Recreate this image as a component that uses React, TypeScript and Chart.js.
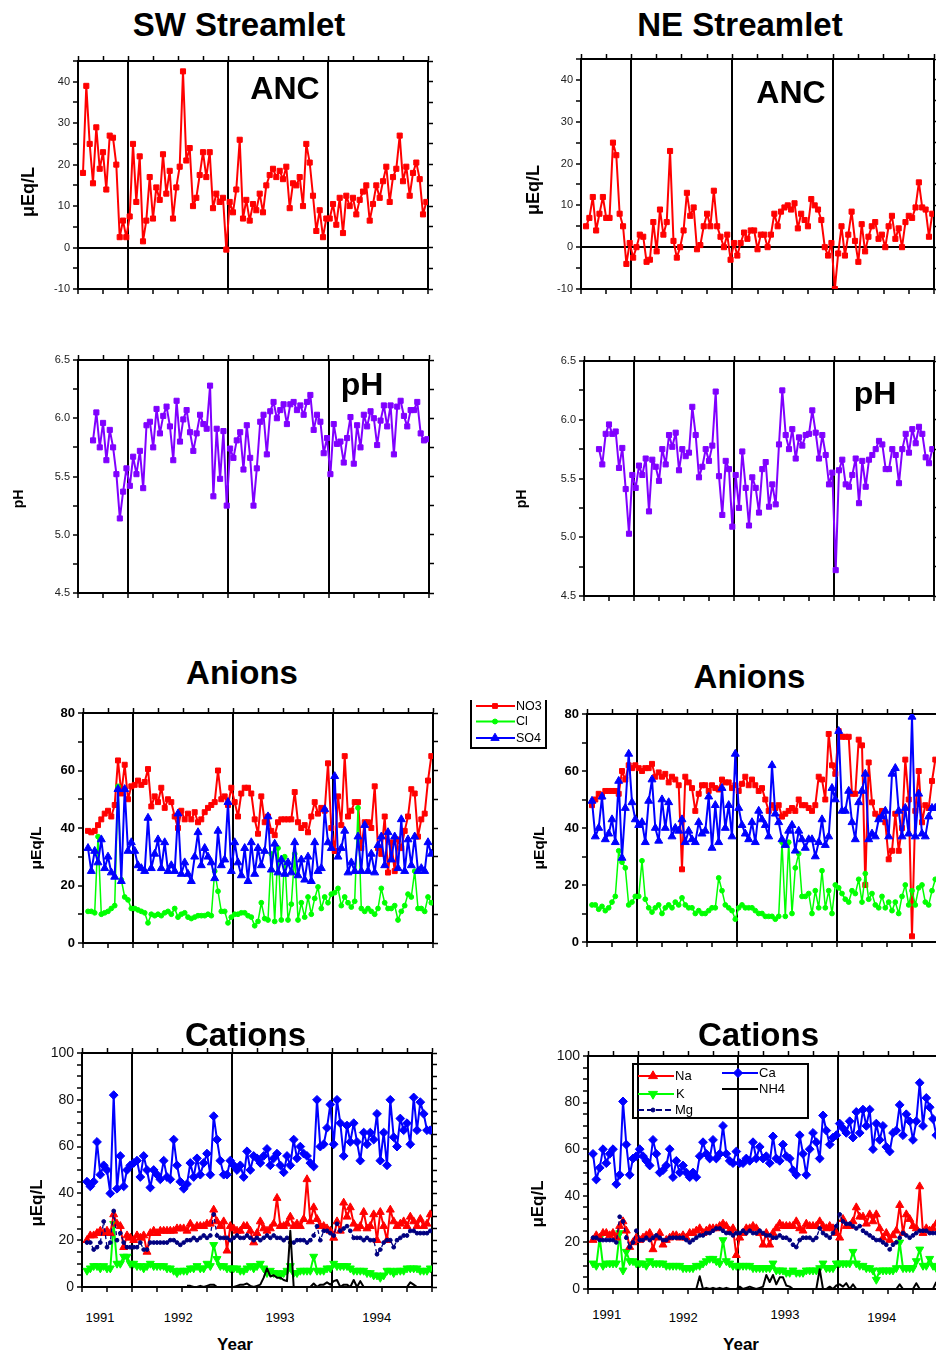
import React, { useEffect, useRef } from 'react';
import { Chart, registerables } from 'chart.js';

Chart.register(...registerables);

const FONT = '"Liberation Sans", Arial, Helvetica, sans-serif';
Chart.defaults.font.family = FONT;

// ---------------- data ----------------
const sampleDates = [
  1991.55, 1991.583, 1991.617, 1991.65, 1991.683, 1991.717, 1991.75, 1991.783, 1991.817, 1991.85, 1991.883, 1991.917, 1991.95, 1991.983,
  1992.017, 1992.05, 1992.083, 1992.117, 1992.15, 1992.183, 1992.217, 1992.25, 1992.283, 1992.317, 1992.35, 1992.383, 1992.417, 1992.45, 1992.483,
  1992.517, 1992.55, 1992.583, 1992.617, 1992.65, 1992.683, 1992.717, 1992.75, 1992.783, 1992.817, 1992.85, 1992.883, 1992.917, 1992.95, 1992.983,
  1993.017, 1993.05, 1993.083, 1993.117, 1993.15, 1993.183, 1993.217, 1993.25, 1993.283, 1993.317, 1993.35, 1993.383, 1993.417, 1993.45, 1993.483,
  1993.517, 1993.55, 1993.583, 1993.617, 1993.65, 1993.683, 1993.717, 1993.75, 1993.783, 1993.817, 1993.85, 1993.883, 1993.917, 1993.95, 1993.983,
  1994.017, 1994.05, 1994.083, 1994.117, 1994.15, 1994.183, 1994.217, 1994.25, 1994.283, 1994.317, 1994.35, 1994.383, 1994.417, 1994.45, 1994.483,
  1994.517, 1994.55, 1994.583, 1994.617, 1994.65, 1994.683, 1994.717, 1994.75, 1994.783, 1994.817, 1994.85, 1994.883, 1994.917, 1994.95, 1994.983,
];

const xQuarterTicks = [1991.5, 1991.75, 1992, 1992.25, 1992.5, 1992.75, 1993, 1993.25, 1993.5, 1993.75, 1994, 1994.25, 1994.5, 1994.75, 1995];
const yearBoundaries = [1992, 1993, 1994];
const yearTickLabels = ['1991', '1992', '1993', '1994'];

const ancTicks = [-10, -5, 0, 5, 10, 15, 20, 25, 30, 35, 40, 45];
const ancTickLabels = [-10, 0, 10, 20, 30, 40];
const phTicks = [4.5, 4.75, 5, 5.25, 5.5, 5.75, 6, 6.25, 6.5];
const phTickLabels = [4.5, 5, 5.5, 6, 6.5];
const anionTicks = [0, 10, 20, 30, 40, 50, 60, 70, 80];
const anionTickLabels = [0, 20, 40, 60, 80];
const cationTicks = [0, 5, 10, 15, 20, 25, 30, 35, 40, 45, 50, 55, 60, 65, 70, 75, 80, 85, 90, 95, 100];
const cationTickLabels = [0, 20, 40, 60, 80, 100];

const N = null;

const swANC = [
  18, 39, 25, 15.5, 29, 19, 23, 14, 27, 26.5, 20, 2.5, 6.5, 2.5,
  7.5, 25, 11, 22, 1.5, 6.5, 17, 7, 14.5, 11.5, 22.5, 13, 18.5, 7, 14.5, 19.5, 42.5, 21, 24, 10, 12, 17.5, 23, 17, 23, 9.5, 13, 11, 12, -0.5,
  11, 8.5, 14, 26, 7, 11.5, 6.5, 10.5, 9, 13, 8.5, 15, 17.5, 19, 17, 18.5, 16.5, 19.5, 9.5, 15.5, 15, 17, 10, 25, 20.5, 12.5, 4, 9, 2.5, 7,
  7, 10.5, 5.5, 12, 3.5, 12.5, 10, 12, 8, 11.5, 13.5, 15, 6.5, 10.5, 15, 12, 16, 19.5, 11, 17, 19, 27, 16, 19.5, 12.5, 18, 20.5, 16.5, 8, 11,
];
const neANC = [
  5, 7, 12, 4, 8, 12, 7, 7, 25, 22, 8, 5, -4, 1,
  -2.5, 0, 3, 2.5, -3.5, -3, 6, -1, 9, 3, 6, 23, 1.5, -2.5, 0, 4, 13, 7.5, 9.5, -0.5, 0.5, 5, 8, 5, 13.5, 5, 2.5, 0, 3, -3,
  1, -2, 1, 3.5, 2, 4, 4, -0.5, 3, 3, 0, 3, 8, 5, 8.5, 9.5, 10, 9, 10.5, 4.5, 8, 6.5, 5, 11.5, 10, 9, 6.5, 0, -2, 1,
  -10, -1.5, 5, -2, 3, 8.5, 1.5, -3.5, 5.5, -1, 2.5, 5, 6, 2, 3, 0, 5, 7.5, 2, 4.5, 0, 6, 7.5, 7, 9.5, 15.5, 9.5, 9, 2.5, 8,
];

const swPH = [
  N, N, N, 5.81, 6.05, 5.75, 5.96, 5.64, 5.9, 5.75, 5.52, 5.14, 5.37, 5.57,
  5.42, 5.67, 5.52, 5.72, 5.4, 5.94, 5.97, 5.75, 6.08, 5.87, 6.02, 6.1, 5.93, 5.64, 6.15, 5.8, 5.99, 6.07, 5.88, 5.72, 5.87, 6.03, 5.95, 5.91, 6.28, 5.33, 5.91, 5.48, 5.89, 5.25,
  5.74, 5.66, 5.81, 5.88, 5.56, 5.94, 5.66, 5.25, 5.57, 5.97, 6.03, 5.69, 6.06, 6.14, 6.0, 6.07, 6.12, 5.95, 6.12, 6.14, 6.07, 6.11, 6.03, 6.14, 6.2, 5.9, 6.03, 5.97, 5.7, 5.83,
  5.52, 5.95, 5.78, 5.8, 5.62, 5.83, 6.01, 5.61, 5.94, 5.75, 6.03, 5.93, 6.06, 6.0, 5.77, 5.98, 6.11, 5.93, 6.11, 5.69, 6.1, 6.15, 6.02, 5.93, 6.07, 6.07, 6.14, 5.87, 5.81, 5.82,
];
const nePH = [
  N, N, N, 5.75, 5.62, 5.88, 5.96, 5.88, 5.9, 5.59, 5.76, 5.41, 5.03, 5.53,
  5.42, 5.61, 5.53, 5.67, 5.22, 5.66, 5.6, 5.48, 5.75, 5.62, 5.87, 5.77, 5.89, 5.57, 5.75, 5.69, 5.72, 6.11, 5.87, 5.51, 5.6, 5.75, 5.65, 5.78, 6.24, 5.52, 5.19, 5.65, 5.58, 5.09,
  5.53, 5.25, 5.73, 5.42, 5.1, 5.51, 5.42, 5.21, 5.58, 5.64, 5.26, 5.45, 5.28, 5.79, 6.25, 5.87, 5.75, 5.92, 5.67, 5.85, 5.78, 5.87, 5.88, 6.08, 5.89, 5.67, 5.87, 5.7, 5.45, 5.55,
  4.72, 5.57, 5.66, 5.45, 5.43, 5.53, 5.67, 5.29, 5.65, 5.43, 5.66, 5.7, 5.75, 5.82, 5.79, 5.58, 5.58, 5.75, 5.7, 5.46, 5.75, 5.88, 5.72, 5.92, 5.8, 5.94, 5.88, 5.68, 5.63, 5.75,
];

const swNO3 = [
  39, 38.5, 39, 41, 43, 45, 46, 44, 48, 63.5, 52, 62, 50, 54.5,
  55, 56.5, 55, 56, 60.5, 47.5, 51, 49, 54, 47, 50, 49, 44, 40, 46, 43, 45, 43, 45.5, 42, 43, 45.5, 47, 48, 49, 60, 50, 51, 48, 54,
  49, 44, 52, 54, 54, 52, 43, 38, 51, 42, 44, 39, 37.5, 42, 43, 43, 43, 43, 52.5, 42, 40, 41, 38.5, 44, 49, 45, 47, 46, 62.5, 40,
  32, 51, 41, 65, 44, 46, 49, 49, 33, 42, 42, 40, 54.5, 33, 31, 44, 24.5, 35, 25, 36, 33, 39, 44, 53.5, 52, 37, 43, 45, 56.5, 65,
];
const swCl = [
  11, 11, 10.5, 37, 10, 10.5, 11, 12, 13, 54.5, 22, 16, 15, 12,
  12, 11.5, 11, 10.5, 7, 10, 9.5, 10, 9.5, 10.5, 11, 10, 12, 9, 10, 10.5, 9, 8.5, 9, 9.5, 9.5, 9.5, 10, 9.5, 25, 18, 11, 11, 7, 9,
  10, 10, 10.5, 10.5, 9.5, 9, 6, 7.5, 14, 8.5, 8, 31, 7.5, 33, 8, 30, 8, 13.5, 31, 8, 14, 9, 16, 10, 15.5, 19.5, 12, 16, 14, 17,
  17.5, 19, 13, 16, 14, 12.5, 14.5, 47, 12, 11, 12, 11, 10, 12, 19, 14, 12, 12, 13, 8, 11, 13, 17, 16, 25, 12, 12, 11, 16, 14,
];
const swSO4 = [
  33, 25, 32, 28, 36, 26, 30, 24.5, 23, 53.5, 21.5, 53.5, 32, 35,
  32, 27, 26, 25, 43.5, 26, 31, 36, 26, 35, 25, 27, 25, 45, 24, 28, 24, 21.5, 30, 38.5, 27, 33, 30, 28, 22.5, 39, 27, 29, 49, 25,
  35, 28, 23.5, 33, 21.5, 35, 24, 33, 27, 32, 44, 25.5, 34.5, 24.5, 29, 24, 28, 24.5, 35, 23.5, 29, 22, 30, 21.5, 35, 25, 26, 46.5, 35, 33,
  58, 30, 33, 39, 24.5, 28, 25, 37, 25, 41, 25, 31, 24.5, 34, 37, 27, 38.5, 29, 37, 26, 43, 25, 36, 27, 37, 25, 26, 25, 35, 31,
];
const neNO3 = [
  48, 50, 52, 51, 53, 53, 53, 53, 52, 60, 57, 62, 61, 62,
  61, 60, 61, 61, 62.5, 58, 59.5, 58, 59, 56, 58, 57, 55, 25.5, 58, 56, 54, 46, 52, 55, 55, 53, 55, 54, 53.5, 57, 56, 56, 54, 55,
  53, 55.5, 58, 55, 57, 55, 53, 54, 50, 46, 48, 47, 48, 44, 45, 46, 47, 46, 50, 48, 48, 47, 46, 48, 58, 57, 50, 73, 62, 59,
  74, 72, 72, 72, 52, 52, 71, 69, 20, 63, 49, 45, 44, 46, 42, 29, 32, 45, 32, 40, 64, 50, 2, 46, 60, 42, 48, 47, 56.5, 64,
];
const neCl = [
  13, 13, 11.5, 12.5, 11, 12, 14, 16, 32, 28, 26, 13, 14, 16,
  16, 28.5, 15, 12, 10.5, 12, 13, 10, 12, 13, 12, 14, 13, 15.5, 13, 12, 12, 10, 11, 10, 10, 11, 12, 12, 22.5, 18, 13, 12, 11, 8,
  12, 13, 12, 12, 12, 11, 10, 10, 9, 9, 9, 8, 9, 35, 9, 35, 10, 26, 31, 16, 16, 17, 10, 18, 12, 25, 12, 18, 10, 20,
  19, 17, 15, 14, 18, 17, 22, 14, 24, 15, 17, 13, 12, 16, 12, 14, 11, 14, 10, 16, 20, 13, 18, 13, 19, 20, 14, 13, 18, 22,
];
const neSO4 = [
  49.5, 37, 40, 51, 36, 38, 43, 35, 56.5, 29.5, 47, 66, 49, 43,
  41, 42, 35, 49.5, 57, 40, 35.5, 50, 40, 49, 37, 40, 39, 43, 35, 39, 36, 35, 42, 38, 39, 51, 33, 48, 35, 54, 40, 48, 37, 66,
  47, 41, 38, 36, 42, 35, 46, 43, 41, 37, 62, 45, 42, 36, 34, 39, 41, 32, 39, 36, 33, 36, 36, 30, 35, 43, 34, 37, 54, 50,
  74, 46, 46, 53, 42, 36, 49, 53, 59, 36, 38, 37, 43, 44, 46, 37, 59, 61, 46, 37, 47, 38, 79, 37, 52, 38, 37, 44, 47, 47,
];

const swNa = [
  20, 22, 22, 23, 24, 23, 24, 23, 31, 27, 26, 17, 22, 21,
  20, 22, 21, 22, 15, 23, 24, 23, 24, 24, 24, 24, 24, 25, 25, 25, 24, 27, 25, 26, 26, 26, 27, 27, 33, 28, 26, 28, 15.5, 26,
  25, 24, 24, 26, 26, 24, 19, 23, 28, 25, 24, 25, 27, 38, 26, 26, 27, 30, 26, 27, 26, 29, 46, 28, 34, 29, 26, 26, 25, 24,
  21, 28, 24, 36, 30, 34, 27, 25, 26, 32, 25, 26, 31, 20, 32, 26, 20, 33, 28, 26, 27, 28, 26, 30, 28, 26, 29, 26, 27, 31,
];
const swK = [
  7, 8, 9, 9, 8, 9, 8, 8, 27, 10, 10, 13, 13, 10,
  10, 9, 9, 8, 9, 10, 9, 9, 9, 9, 8, 8, 7, 6, 7, 7, 7, 8, 8, 9, 8, 8, 10, 9, 18, 12, 9, 9, 8, 8,
  8, 8, 7, 7, 8, 9, 8, 9, 10, 8, 6, 7, 6, 6, 5, 6, 7, 9, 6, 6, 7, 7, 7, 7, 13, 7, 7, 7, 8, 8,
  10, 9, 9, 9, 9, 8, 7, 7, 7, 7, 6, 6, 5, 5, 4, 5, 7, 7, 6, 7, 7, 7, 8, 8, 8, 8, 7, 7, 7, 8,
];
const swMg = [
  19, 19, 16, 17, 19, 28, 17, 19, 32.5, 20, 23, 19, 17, 17,
  17, 17, 19, 16, 16, 19, 19, 19, 19, 19, 19, 20, 20, 19, 18, 19, 20, 20, 21, 20, 21, 22, 21, 22, 31, 22, 21, 21, 21, 20,
  21, 22, 21, 21, 22, 21, 20, 21, 20, 21, 22, 21, 22, 21, 21, 20, 21, 19, 19, 20, 20, 20, 19, 20, 22, 26, 20, 24, 24, 23,
  22, 27, 24, 25, 26, 24, 21, 21, 21, 20, 21, 20, 20, 14, 16, 19, 20, 20, 17, 20, 21, 22, 22, 24, 24, 23, 23, 23, 23, 24,
];
const swCa = [
  45, 43, 45, 62, 48, 52, 50, 40, 82, 42, 56, 43, 50, 52,
  53, 54, 47, 56, 50, 42.5, 50, 48, 46, 54, 47, 46, 63, 52, 45, 42, 44, 53, 47, 55, 48, 53, 57, 48, 73, 63, 54, 48, 48, 54,
  52, 50, 52, 47, 58, 50, 56, 55, 53, 56, 59, 52, 55, 57, 52, 49, 56, 52, 63, 55, 60, 57, 56, 53, 51.5, 80, 60, 61, 68, 78,
  61, 80, 70, 56, 69, 62, 70, 62, 54, 66, 61, 66, 63, 74, 54, 66, 52, 80, 64, 60, 72, 67, 70, 61, 81, 67, 79, 74, 67, 67,
];
const swNH4 = [
  N, N, N, N, N, N, N, N, N, N, N, N, N, N,
  N, N, N, N, N, N, N, N, N, N, N, N, N, N, N, N, 0.5, 0.5, 0, 0, 0.5, 0, 0.5, 1, 1, 0, 0, 0, 0, 0,
  0, 0.5, 1, 1, 1.5, 0.5, 0, 0.5, 1, 4, 8, 4.5, 5, 4, 4, 3, 2.5, 24, 0, 0, 0, 0, 0, 0, 1.5, 0, 1, 1, 2, 1,
  2.5, 3, 0, 1, 1, 0, 3, 0, 2.5, 0, 0, 0, 0, 0, 0, 0, 0, 0, 0, 0, 0, 0, 0, 2, 1, 0, 0, 0, 0, 0,
];

const neNa = [
  21, 23, 22, 24, 24, 23, 24, 22, 27, 29, 25, 18, 20, 22,
  21, 22, 23, 24, 17, 22, 24, 19, 21, 22, 23, 23, 22, 23, 22, 24, 24, 25, 26, 24, 25, 26, 26, 26, 27, 28, 27, 25, 26, 14.5,
  22, 24, 26, 26, 27, 26, 24, 19, 24, 19, 24, 26, 28, 27, 27, 27, 27, 29, 26, 25, 28, 27, 27, 27, 29, 27, 26, 27, 26, 24,
  22, 30, 27, 27, 29, 35, 31, 31, 28, 32, 29, 32, 26, 22, 24, 21, 23, 25, 36, 24, 32, 30, 27, 26, 44, 24, 26, 25, 26, 28,
];
const neK = [
  11, 10, 22, 10, 11, 11, 11, 11, 24, 8, 16, 12, 12, 11,
  11, 11, 10, 12, 11, 11, 11, 11, 10, 10, 10, 10, 10, 9, 9, 9, 9, 10, 10, 11, 12, 13, 13, 12, 11, 21, 12, 11, 10, 10,
  10, 10, 10, 10, 9, 9, 9, 9, 9, 9, 11, 8, 8, 8, 7, 7, 8, 7, 7, 7, 8, 8, 8, 8, 9, 11, 9, 9, 9, 11,
  11, 11, 11, 11, 16, 11, 10, 10, 9, 9, 8, 4, 8, 8, 8, 8, 8, 9, 20, 9, 9, 9, 9, 12, 17, 10, 10, 13, 10, 9,
];
const neMg = [
  22, 22, 21, 21, 21, 21, 21, 20, 31, 29, 22, 18, 20, 25,
  21, 21, 22, 21, 22, 23, 22, 21, 21, 22, 22, 22, 22, 22, 21, 20, 21, 22, 23, 23, 24, 24, 25, 26, 26, 25, 24, 24, 23, 24,
  24, 25, 24, 25, 24, 24, 25, 24, 23, 23, 22, 22, 23, 22, 22, 21, 19, 18, 21, 22, 22, 22, 21, 22, 26, 24, 23, 22, 24, 27,
  32, 29, 28, 28, 27, 26, 27, 25, 24, 23, 22, 21, 21, 20, 19, 17, 19, 20, 22, 24, 23, 22, 23, 24, 25, 25, 25, 24, 24, 24,
];
const neCa = [
  58, 47, 52, 60, 54, 58, 60, 45, 49, 80.5, 62, 49, 56, 57,
  60, 57, 55, 53, 64, 58, 50, 51, 53, 60, 48, 55, 50, 53, 50, 48, 50, 48, 57, 63, 58, 56, 64, 56, 58, 70, 58, 55, 54, 59,
  54, 54, 56, 55, 63, 56, 61, 56, 57, 54, 65.5, 56, 55, 62, 57, 56, 51, 49, 66, 58, 49, 60, 67, 63, 56, 74.5, 68, 62, 65, 66,
  71, 69, 67, 72, 65, 76, 67, 77, 70, 77, 60, 71, 64, 70, 61, 59, 67, 68, 79, 66, 75, 72, 64, 72, 88.5, 70, 82, 78, 73, 66,
];
const neNH4 = [
  N, N, N, N, N, N, N, N, N, N, N, N, N, N,
  N, N, N, N, N, N, N, N, N, N, N, N, N, N, N, N, N, 0, 5.5, 0, 0.5, 0, 0.5, 0, 0.5, 0, 0.5, 0, 0, 0,
  1, 0, 0.5, 1, 0.5, 0, 0.5, 1, 6, 3, 6, 2, 5, 5, 1.5, 1, 0, 0, 0, 0, 0, 0, 0, 0, 8.5, 0, 0, 1, 0, 1.5,
  2, 1, 2.5, 0, 2, 0, 0, 0, 0, 0, 0, 0, 0, 0, 0, 0, 0, 0, 2, 0, 0, 0, 0, 2.5, 0, 0, 0, 0, 0, 3,
];

// ---------------- styles ----------------
const RED = '#ff0000';
const GREEN = '#00ff00';
const BLUE = '#0000ff';
const NAVY = '#000080';
const PURPLE = '#8000ff';
const BLACK = '#000000';

type Marker = 'rect' | 'circle' | 'triangle' | 'rectRot' | null;

interface SeriesSpec {
  label: string;
  values: (number | null)[];
  color: string;
  marker: Marker;
  radius: number;
  rotation?: number;
  width: number;
  dash?: number[];
  order: number;
}

interface LegendItem {
  label: string;
  color: string;
  marker: Marker;
  radius: number;
  rotation?: number;
  width: number;
  dash?: number[];
  x1: number;
  x2: number;
  y: number;
  mx: number;
  tx: number;
}

interface LegendSpec {
  box: [number, number, number, number];
  font: number;
  items: LegendItem[];
}

interface PanelSpec {
  id: string;
  area: [number, number, number, number];
  yMin: number;
  yMax: number;
  yTicks: number[];
  yLabels: number[];
  yDecimals: number;
  yFont: { size: number; weight: string; color: string };
  zeroLine?: boolean;
  series: SeriesSpec[];
  padLeft?: number;
  legend?: LegendSpec;
}

const ser = (
  label: string, values: (number | null)[], color: string, marker: Marker, radius: number,
  width: number, order: number, extra: Partial<SeriesSpec> = {},
): SeriesSpec => ({ label, values, color, marker, radius, width, order, ...extra });

const ancFont = { size: 11, weight: 'normal', color: '#222' };
const anionFont = { size: 13, weight: 'bold', color: '#000' };
const cationFont = { size: 14, weight: 'normal', color: '#111' };

const anionSeries = (no3: number[], cl: number[], so4: number[]) => [
  ser('NO3', no3, RED, 'rect', 3.5, 2, 2),
  ser('Cl', cl, GREEN, 'circle', 2.4, 1.5, 1),
  ser('SO4', so4, BLUE, 'triangle', 4.6, 2, 0),
];
const cationSeries = (na: number[], k: number[], mg: number[], ca: number[], nh4: (number | null)[]) => [
  ser('Na', na, RED, 'triangle', 4.6, 2, 3),
  ser('K', k, GREEN, 'triangle', 4.6, 2, 4, { rotation: 180 }),
  ser('Mg', mg, NAVY, 'circle', 1.9, 1.3, 1, { dash: [4, 3] }),
  ser('Ca', ca, BLUE, 'rectRot', 4.4, 2, 2),
  ser('NH4', nh4, BLACK, null, 0, 2, 0),
];

const anionLegend: LegendSpec = {
  box: [471, 694, 75, 54],
  font: 12.5,
  items: [
    { label: 'NO3', color: RED, marker: 'rect', radius: 3.4, width: 2, x1: 476, x2: 515, y: 706, mx: 495, tx: 516 },
    { label: 'Cl', color: GREEN, marker: 'circle', radius: 2.5, width: 2, x1: 476, x2: 515, y: 721.5, mx: 495, tx: 516 },
    { label: 'SO4', color: BLUE, marker: 'triangle', radius: 4.8, width: 2, x1: 476, x2: 515, y: 738, mx: 495, tx: 516 },
  ],
};
const cationLegend: LegendSpec = {
  box: [633, 1064, 175, 54],
  font: 13,
  items: [
    { label: 'Na', color: RED, marker: 'triangle', radius: 5.2, width: 2, x1: 638, x2: 674, y: 1076, mx: 653, tx: 675 },
    { label: 'K', color: GREEN, marker: 'triangle', radius: 5.2, rotation: 180, width: 2, x1: 638, x2: 674, y: 1094, mx: 653, tx: 676 },
    { label: 'Mg', color: NAVY, marker: 'circle', radius: 2, width: 2, dash: [6, 3], x1: 638, x2: 674, y: 1110, mx: 653, tx: 675 },
    { label: 'Ca', color: BLUE, marker: 'rectRot', radius: 4.6, width: 2, x1: 722, x2: 758, y: 1073, mx: 738, tx: 759 },
    { label: 'NH4', color: BLACK, marker: null, radius: 0, width: 2, x1: 722, x2: 758, y: 1089, mx: 738, tx: 759 },
  ],
};

const panels: PanelSpec[] = [
  { id: 'swAnc', area: [78, 61, 428, 289], yMin: -10, yMax: 45, yTicks: ancTicks, yLabels: ancTickLabels, yDecimals: 0, yFont: ancFont, zeroLine: true,
    series: [ser('ANC', swANC, RED, 'rect', 3.6, 2, 0)] },
  { id: 'neAnc', area: [581, 59, 934, 289], yMin: -10, yMax: 45, yTicks: ancTicks, yLabels: ancTickLabels, yDecimals: 0, yFont: ancFont, zeroLine: true,
    series: [ser('ANC', neANC, RED, 'rect', 3.6, 2, 0)] },
  { id: 'swPh', area: [78, 360, 429, 593], yMin: 4.5, yMax: 6.5, yTicks: phTicks, yLabels: phTickLabels, yDecimals: 1, yFont: ancFont,
    series: [ser('pH', swPH, PURPLE, 'rect', 3.6, 2, 0)] },
  { id: 'nePh', area: [584, 361, 934, 596], yMin: 4.5, yMax: 6.5, yTicks: phTicks, yLabels: phTickLabels, yDecimals: 1, yFont: ancFont,
    series: [ser('pH', nePH, PURPLE, 'rect', 3.6, 2, 0)] },
  { id: 'swAn', area: [83, 713, 433, 943], yMin: 0, yMax: 80, yTicks: anionTicks, yLabels: anionTickLabels, yDecimals: 0, yFont: anionFont,
    series: anionSeries(swNO3, swCl, swSO4) },
  { id: 'neAn', area: [587, 714, 937, 942], yMin: 0, yMax: 80, yTicks: anionTicks, yLabels: anionTickLabels, yDecimals: 0, yFont: anionFont,
    series: anionSeries(neNO3, neCl, neSO4), padLeft: 122, legend: anionLegend },
  { id: 'swCat', area: [82, 1053, 432, 1287], yMin: 0, yMax: 100, yTicks: cationTicks, yLabels: cationTickLabels, yDecimals: 0, yFont: cationFont,
    series: cationSeries(swNa, swK, swMg, swCa, swNH4) },
  { id: 'neCat', area: [588, 1056, 938, 1289], yMin: 0, yMax: 100, yTicks: cationTicks, yLabels: cationTickLabels, yDecimals: 0, yFont: cationFont,
    series: cationSeries(neNa, neK, neMg, neCa, neNH4), legend: cationLegend },
];

// ---------------- text overlays ----------------
interface TextSpec { t: string; x: number; y: number; size: number; bold?: boolean; rot?: boolean }
const texts: TextSpec[] = [
  { t: 'SW Streamlet', x: 239, y: 24, size: 33, bold: true },
  { t: 'NE Streamlet', x: 740, y: 24, size: 33, bold: true },
  { t: 'ANC', x: 285, y: 88, size: 32, bold: true },
  { t: 'ANC', x: 791, y: 92, size: 32, bold: true },
  { t: 'pH', x: 362, y: 384, size: 32, bold: true },
  { t: 'pH', x: 875, y: 393, size: 32, bold: true },
  { t: 'Anions', x: 242, y: 672, size: 33, bold: true },
  { t: 'Anions', x: 749.5, y: 676, size: 33, bold: true },
  { t: 'Cations', x: 245.5, y: 1033.5, size: 33, bold: true },
  { t: 'Cations', x: 758.5, y: 1033.5, size: 33, bold: true },
  { t: 'μEq/L', x: 27.5, y: 192, size: 18, bold: true, rot: true },
  { t: 'μEq/L', x: 532.5, y: 190, size: 18, bold: true, rot: true },
  { t: 'pH', x: 18, y: 499, size: 14, bold: true, rot: true },
  { t: 'pH', x: 521, y: 499, size: 14, bold: true, rot: true },
  { t: 'μEq/L', x: 36, y: 848, size: 15.5, bold: true, rot: true },
  { t: 'μEq/L', x: 538.5, y: 848, size: 15.5, bold: true, rot: true },
  { t: 'μEq/L', x: 35.5, y: 1203, size: 17, bold: true, rot: true },
  { t: 'μEq/L', x: 536.5, y: 1204, size: 17, bold: true, rot: true },
  { t: yearTickLabels[0], x: 100, y: 1316.7, size: 13 },
  { t: yearTickLabels[1], x: 178.3, y: 1316.7, size: 13 },
  { t: yearTickLabels[2], x: 280, y: 1316.7, size: 13 },
  { t: yearTickLabels[3], x: 376.7, y: 1316.7, size: 13 },
  { t: yearTickLabels[0], x: 606.7, y: 1314, size: 13 },
  { t: yearTickLabels[1], x: 683.3, y: 1316.7, size: 13 },
  { t: yearTickLabels[2], x: 785, y: 1314, size: 13 },
  { t: yearTickLabels[3], x: 881.7, y: 1316.7, size: 13 },
  { t: 'Year', x: 235, y: 1344, size: 17, bold: true },
  { t: 'Year', x: 741, y: 1344, size: 17, bold: true },
];

// ---------------- drawing helpers ----------------
function drawMarker(ctx: CanvasRenderingContext2D, style: Marker, x: number, y: number, r: number, rot: number, color: string) {
  if (!style) return;
  ctx.save();
  ctx.fillStyle = color;
  ctx.strokeStyle = color;
  ctx.lineWidth = 1;
  ctx.translate(x, y);
  ctx.rotate((rot * Math.PI) / 180);
  ctx.beginPath();
  if (style === 'rect') {
    const s = r * Math.SQRT1_2;
    ctx.rect(-s, -s, 2 * s, 2 * s);
  } else if (style === 'circle') {
    ctx.arc(0, 0, r, 0, Math.PI * 2);
  } else if (style === 'triangle') {
    ctx.moveTo(0, -r);
    ctx.lineTo(r * 0.866, r * 0.5);
    ctx.lineTo(-r * 0.866, r * 0.5);
    ctx.closePath();
  } else if (style === 'rectRot') {
    ctx.moveTo(0, -r);
    ctx.lineTo(r, 0);
    ctx.lineTo(0, r);
    ctx.lineTo(-r, 0);
    ctx.closePath();
  }
  ctx.fill();
  ctx.stroke();
  ctx.restore();
}

function makeLegendPlugin(spec: LegendSpec | undefined, ox: number, oy: number) {
  return {
    id: 'customLegend',
    afterDraw(chart: any) {
      if (!spec) return;
      const ctx: CanvasRenderingContext2D = chart.ctx;
      ctx.save();
      ctx.lineWidth = 2;
      ctx.strokeStyle = '#000';
      ctx.strokeRect(spec.box[0] - ox, spec.box[1] - oy, spec.box[2], spec.box[3]);
      ctx.font = `${spec.font}px ${FONT}`;
      ctx.textBaseline = 'middle';
      ctx.textAlign = 'left';
      for (const it of spec.items) {
        ctx.save();
        ctx.strokeStyle = it.color;
        ctx.lineWidth = it.width;
        ctx.setLineDash(it.dash || []);
        ctx.beginPath();
        ctx.moveTo(it.x1 - ox, it.y - oy);
        ctx.lineTo(it.x2 - ox, it.y - oy);
        ctx.stroke();
        ctx.setLineDash([]);
        drawMarker(ctx, it.marker, it.mx - ox, it.y - oy, it.radius, it.rotation || 0, it.color);
        ctx.restore();
        ctx.fillStyle = '#000';
        ctx.fillText(it.label, it.tx - ox, it.y - oy + 0.5);
      }
      ctx.restore();
    },
  };
}

const PR = 14;
const PT = 14;
const PB = 14;

function geometry(p: PanelSpec) {
  const [l, t, r, b] = p.area;
  const PL = p.padLeft ?? 60;
  return { ox: l - PL, oy: t - PT, W: r - l + PL + PR, H: b - t + PT + PB, PL };
}

const near = (a: number, b: number) => Math.abs(a - b) < 1e-6;
const isYear = (v: number) => yearBoundaries.some((y) => near(y, v));

function buildConfig(p: PanelSpec): any {
  const g = geometry(p);
  const fixW = (w: number) => (s: any) => { s.width = w; };
  const fixH = (h: number) => (s: any) => { s.height = h; };
  const xTicks = (s: any) => { s.ticks = xQuarterTicks.map((v) => ({ value: v })); };
  const yTicks = (s: any) => { s.ticks = p.yTicks.map((v) => ({ value: v })); };
  const border = { display: true, color: '#000', width: 2 };
  const tickGrid = { drawOnChartArea: false, color: '#000', tickColor: '#000', tickWidth: 1.5, tickLength: 5 };

  return {
    type: 'line',
    data: {
      datasets: p.series.map((s) => ({
        label: s.label,
        data: sampleDates.map((d, i) => ({ x: d, y: s.values[i] })),
        borderColor: s.color,
        backgroundColor: s.color,
        borderWidth: s.width,
        borderDash: s.dash || [],
        borderJoinStyle: 'round',
        pointStyle: s.marker || 'circle',
        pointRadius: s.marker ? s.radius : 0,
        pointRotation: s.rotation || 0,
        pointBorderWidth: 1,
        pointBorderColor: s.color,
        pointBackgroundColor: s.color,
        tension: 0,
        spanGaps: false,
        fill: false,
        order: s.order,
      })),
    },
    options: {
      responsive: false,
      maintainAspectRatio: false,
      animation: false,
      events: [],
      layout: { padding: 0 },
      plugins: { legend: { display: false }, tooltip: { enabled: false }, title: { display: false } },
      scales: {
        x: {
          type: 'linear', position: 'bottom', min: 1991.5, max: 1995,
          afterBuildTicks: xTicks, afterFit: fixH(PB),
          ticks: { display: false },
          grid: {
            drawOnChartArea: true,
            color: (c: any) => (c.tick && isYear(c.tick.value) ? '#000' : 'rgba(0,0,0,0)'),
            lineWidth: 2,
            tickColor: '#000', tickWidth: 1.5, tickLength: 5,
          },
          border,
        },
        x2: {
          type: 'linear', position: 'top', min: 1991.5, max: 1995,
          afterBuildTicks: xTicks, afterFit: fixH(PT),
          ticks: { display: false },
          grid: tickGrid,
          border,
        },
        y: {
          type: 'linear', position: 'left', min: p.yMin, max: p.yMax,
          afterBuildTicks: yTicks, afterFit: fixW(g.PL),
          ticks: {
            autoSkip: false,
            padding: 3,
            color: p.yFont.color,
            font: { family: FONT, size: p.yFont.size, weight: p.yFont.weight },
            callback: (v: number) => (p.yLabels.some((l) => near(l, v)) ? v.toFixed(p.yDecimals) : ''),
          },
          grid: {
            drawOnChartArea: !!p.zeroLine,
            color: (c: any) => (p.zeroLine && c.tick && near(c.tick.value, 0) ? '#000' : 'rgba(0,0,0,0)'),
            lineWidth: 2,
            tickColor: '#000', tickWidth: 1.5, tickLength: 5,
          },
          border,
        },
        y2: {
          type: 'linear', position: 'right', min: p.yMin, max: p.yMax,
          afterBuildTicks: yTicks, afterFit: fixW(PR),
          ticks: { display: false },
          grid: tickGrid,
          border,
        },
      },
    },
    plugins: [makeLegendPlugin(p.legend, g.ox, g.oy)],
  };
}

function PanelChart({ spec }: { spec: PanelSpec }) {
  const ref = useRef<HTMLCanvasElement | null>(null);
  const g = geometry(spec);
  useEffect(() => {
    if (!ref.current) return;
    const chart = new Chart(ref.current, buildConfig(spec));
    return () => chart.destroy();
  }, [spec]);
  return (
    <canvas
      ref={ref}
      width={g.W}
      height={g.H}
      style={{ position: 'absolute', left: g.ox, top: g.oy, width: g.W, height: g.H }}
    />
  );
}

function Txt({ s }: { s: TextSpec }) {
  return (
    <div
      style={{
        position: 'absolute',
        left: s.x,
        top: s.y,
        transform: `translate(-50%, -50%)${s.rot ? ' rotate(-90deg)' : ''}`,
        font: `${s.bold ? 'bold ' : ''}${s.size}px ${FONT}`,
        lineHeight: 1,
        whiteSpace: 'nowrap',
        color: '#000',
        zIndex: 2,
      }}
    >
      {s.t}
    </div>
  );
}

export default function App() {
  return (
    <div
      style={{
        position: 'absolute',
        left: 0,
        top: 0,
        width: 936,
        height: 1358,
        overflow: 'hidden',
        background: '#fff',
      }}
    >
      {panels.map((p) => (
        <PanelChart key={p.id} spec={p} />
      ))}
      {texts.map((s, i) => (
        <Txt key={i} s={s} />
      ))}
    </div>
  );
}
